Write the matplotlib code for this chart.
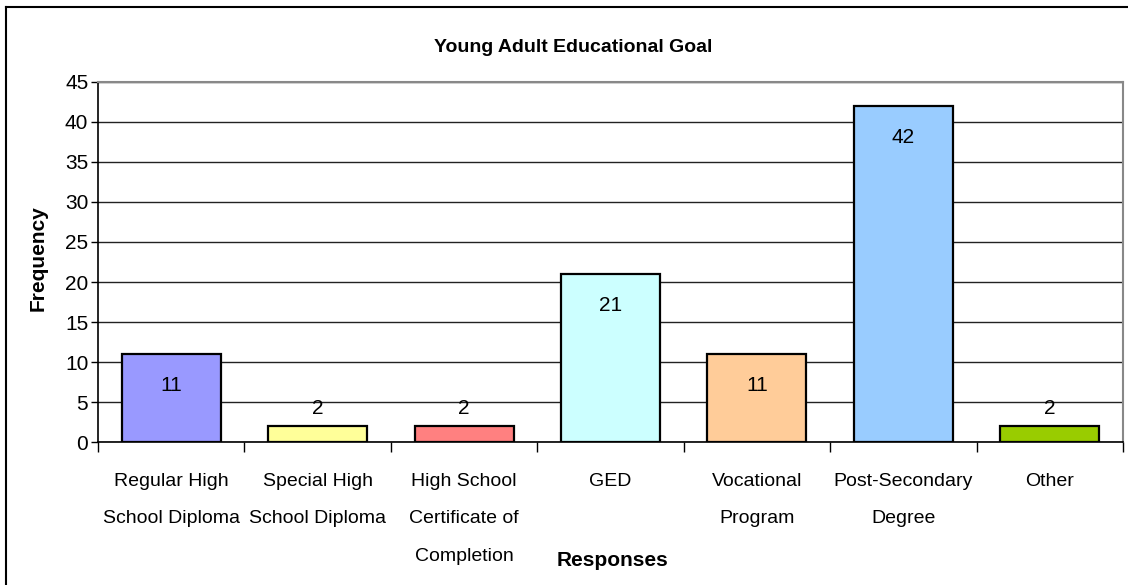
import matplotlib
matplotlib.use("Agg")
import matplotlib.pyplot as plt
from matplotlib.lines import Line2D
from matplotlib import font_manager

# Данные
categories = ["Regular High\nSchool Diploma", "Special High\nSchool Diploma",
              "High School\nCertificate of\nCompletion", "GED",
              "Vocational\nProgram", "Post-Secondary\nDegree", "Other"]
counts = [11, 2, 2, 21, 11, 42, 2]
colors = ["#9999FF", "#FFFF99", "#FF8080", "#CCFFFF", "#FFCC99", "#99CCFF", "#99CC00"]
yticks = [0, 5, 10, 15, 20, 25, 30, 35, 40, 45]

names = {f.name for f in font_manager.fontManager.ttflist}
font = "Liberation Sans Narrow" if "Liberation Sans Narrow" in names else "Liberation Sans"
plt.rcParams["font.family"] = [font, "DejaVu Sans"]

fig = plt.figure(figsize=(11.28, 5.85), dpi=100)
ax = fig.add_axes([98 / 1128, 1 - 442 / 585, 1025 / 1128, 360 / 585])

x = range(len(categories))
ax.bar(x, counts, width=0.676, color=colors, edgecolor="black", linewidth=1.6, zorder=3)

# подписи значений
for i, v in zip(x, counts):
    if v > 5:
        ax.text(i, v - 3.9, str(v), ha="center", va="center", fontsize=15, zorder=4)
    else:
        ax.text(i, v + 2.2, str(v), ha="center", va="center", fontsize=15, zorder=4)

ax.set_xlim(-0.5, len(categories) - 0.5)
ax.set_ylim(0, 45)
ax.set_yticks(yticks)
ax.tick_params(axis="y", labelsize=15, length=5, width=1, direction="out", pad=2)
ax.yaxis.grid(True, color="#222222", linewidth=1, zorder=0)
ax.set_axisbelow(True)

ax.set_xticks([i + 0.5 for i in range(-1, len(categories))])
ax.set_xticklabels([])
ax.tick_params(axis="x", length=7, width=1, direction="out")
ax.set_xticks(list(x), minor=True)
ax.set_xticklabels(categories, minor=True, fontsize=14, linespacing=2.6, va="top")
ax.tick_params(axis="x", which="minor", length=0, pad=22)

for s in ["left", "bottom"]:
    ax.spines[s].set_color("black")
    ax.spines[s].set_linewidth(1.2)
for s in ["top", "right"]:
    ax.spines[s].set_color("#888888")
    ax.spines[s].set_linewidth(1.5)

fig.text(573 / 1128, 1 - 47 / 585, "Young Adult Educational Goal", ha="center", va="center",
         fontsize=14, fontweight="bold")
fig.text(38 / 1128, 1 - 258 / 585, "Frequency", ha="center", va="center", rotation=90,
         fontsize=15, fontweight="bold")
fig.text(612 / 1128, 1 - 560 / 585, "Responses", ha="center", va="center",
         fontsize=15, fontweight="bold")

# внешняя рамка
fig.add_artist(Line2D([6 / 1128, 6 / 1128], [0, 1 - 7 / 585], color="black", linewidth=1.5,
                      transform=fig.transFigure))
fig.add_artist(Line2D([6 / 1128, 1], [1 - 7 / 585, 1 - 7 / 585], color="black", linewidth=1.5,
                      transform=fig.transFigure))

fig.savefig("out.png", dpi=100)
